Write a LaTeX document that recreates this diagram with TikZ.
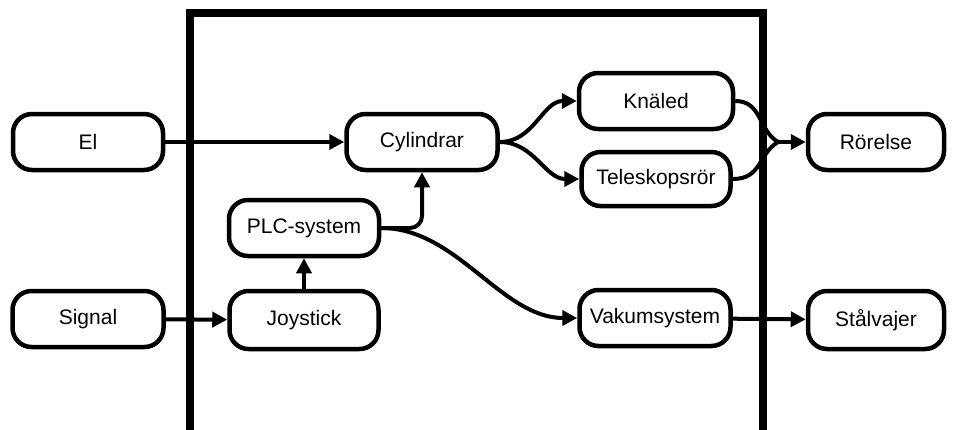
\documentclass[tikz,border=0pt]{standalone}
\usepackage{fontspec}
\setmainfont{Liberation Sans}
\usetikzlibrary{arrows.meta}
\begin{document}
\begin{tikzpicture}[x=1pt,y=-1pt,
  box/.style={draw=black,line width=4.5pt,rounded corners=19pt,minimum width=150pt,minimum height=56pt,inner sep=0pt,
    font=\fontsize{21}{24}\selectfont},
  conn/.style={line width=4pt,-{Triangle[length=15pt,width=15pt]}},
  plain/.style={line width=4pt},
  frame/.style={line width=8pt}]
\useasboundingbox (0,0) rectangle (954,429);
\coordinate (f1) at (190,431);
\coordinate (f2) at (190,13);
\coordinate (f3) at (763,13);
\coordinate (f4) at (763,431);
\draw[frame] (f1) -- (f2) -- (f3) -- (f4);

\node[box] (el) at (88,142) {El};
\node[box,minimum width=151pt] (cyl) at (422,142) {Cylindrar};
\node[box,minimum width=154pt] (kn) at (656,101) {Knäled};
\node[box,minimum width=149pt,minimum height=54pt] (tel) at (656,179) {Teleskopsrör};
\node[box,minimum width=136pt] (ro) at (876,142) {Rörelse};
\node[box] (plc) at (304,228) {PLC-system};
\node[box,minimum width=151pt] (sig) at (88,319) {Signal};
\node[box,minimum width=149pt,minimum height=58pt] (joy) at (304,320) {Joystick};
\node[box,minimum width=151pt] (vak) at (655,318) {Vakumsystem};
\node[box,minimum width=136pt,minimum height=58pt] (st) at (876,320) {Stålvajer};
\coordinate (m) at (778,142);

\draw[conn] (el) -- (cyl);
\draw[conn] (cyl.east) to[out=0,in=180] (kn.west);
\draw[conn] (cyl.east) to[out=0,in=180] (tel.west);
\draw[plain,line join=round] (kn.east) .. controls (762,101) and (758,130) .. (m);
\draw[plain,line join=round] (tel.east) .. controls (762,179) and (758,154) .. (m);
\draw[conn] (m) -- (ro.west);
\draw[conn,rounded corners=12pt] (plc.east) -| (cyl.south);
\draw[conn] (plc.east) to[out=0,in=180,looseness=0.9] (vak.west);
\draw[conn] (joy) -- (plc);
\draw[conn] (sig) -- (joy);
\draw[conn] (vak) -- (st);
\end{tikzpicture}
\end{document}
